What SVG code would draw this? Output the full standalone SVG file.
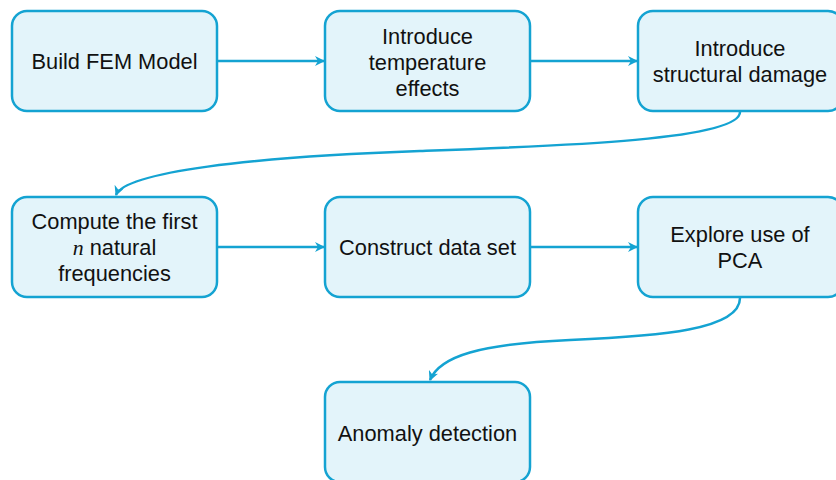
<svg xmlns="http://www.w3.org/2000/svg" width="836" height="480" viewBox="0 0 836 480">
<style>
.box{fill:#e3f4fa;stroke:#14a3d2;stroke-width:2.5}
.t{font-family:"Liberation Sans",Arial,sans-serif;font-size:21.8px;fill:#111;text-anchor:middle}
.c{fill:none;stroke:#14a3d2;stroke-width:2.5}
</style>
<defs>
<marker id="ah" viewBox="0 0 10 10" refX="9" refY="5" markerWidth="4" markerHeight="4" orient="auto" markerUnits="strokeWidth">
<path d="M0,0 L10,5 L0,10 L3,5 Z" fill="#14a3d2"/>
</marker>
</defs>
<rect width="836" height="480" fill="#fff"/>
<g id="connectors">
<path class="c" d="M217,61 L324,61" marker-end="url(#ah)"/>
<path class="c" d="M530,61 L637,61" marker-end="url(#ah)"/>
<path class="c" d="M740,112 C740,140 560,146 420,151 C250,157 125,172 116,195" marker-end="url(#ah)"/>
<path class="c" d="M217,247 L324,247" marker-end="url(#ah)"/>
<path class="c" d="M530,247 L637,247" marker-end="url(#ah)"/>
<path class="c" d="M740,298 C740,330 660,336 570,340 C480,344 440,356 430,380" marker-end="url(#ah)"/>
</g>
<g id="n1"><rect class="box" x="12" y="11" width="205" height="100" rx="15"/><text class="t" x="114.5" y="69">Build FEM Model</text></g>
<g id="n2"><rect class="box" x="325" y="11" width="205" height="100" rx="15"/><text class="t" x="427.5" y="44">Introduce</text><text class="t" x="427.5" y="70">temperature</text><text class="t" x="427.5" y="96">effects</text></g>
<g id="n3"><rect class="box" x="638" y="11" width="205" height="100" rx="15"/><text class="t" x="740" y="56">Introduce</text><text class="t" x="740" y="82">structural damage</text></g>
<g id="n4"><rect class="box" x="12" y="197" width="205" height="100" rx="15"/><text class="t" x="114.5" y="229">Compute the first</text><text class="t" x="114.5" y="255"><tspan font-family="Liberation Serif,serif" font-style="italic">n</tspan> natural</text><text class="t" x="114.5" y="281">frequencies</text></g>
<g id="n5"><rect class="box" x="325" y="197" width="205" height="100" rx="15"/><text class="t" x="427.5" y="255">Construct data set</text></g>
<g id="n6"><rect class="box" x="638" y="197" width="205" height="100" rx="15"/><text class="t" x="740" y="242">Explore use of</text><text class="t" x="740" y="268">PCA</text></g>
<g id="n7"><rect class="box" x="325" y="382" width="205" height="100" rx="15"/><text class="t" x="427.5" y="441">Anomaly detection</text></g>
</svg>
